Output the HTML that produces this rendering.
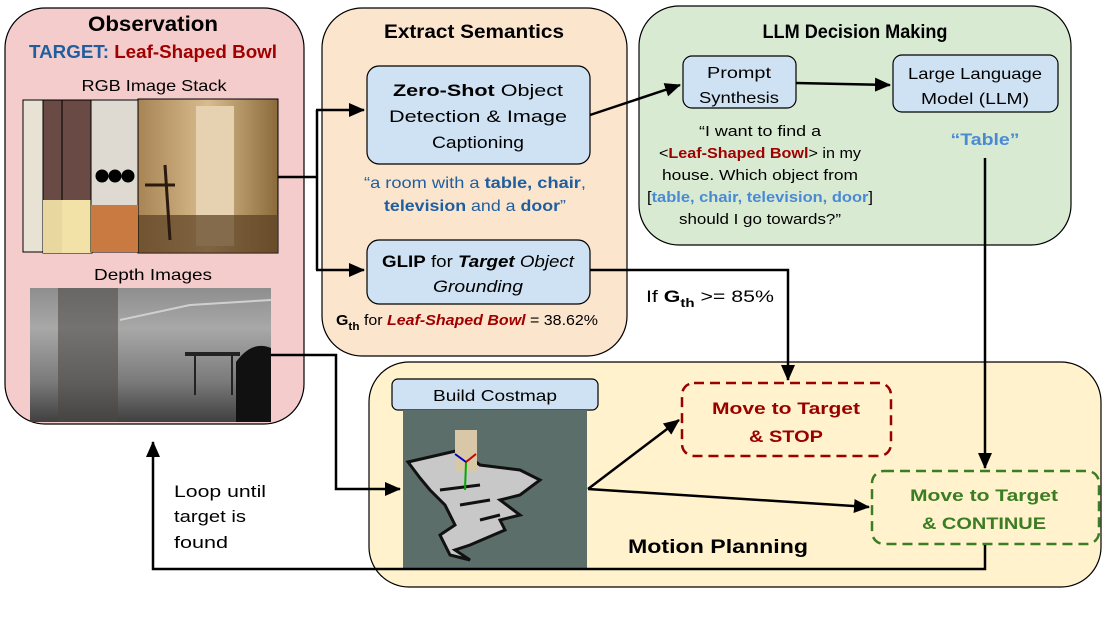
<!DOCTYPE html>
<html><head><meta charset="utf-8"><style>
html,body{margin:0;padding:0;background:#fff;}
svg{display:block;font-family:"Liberation Sans",sans-serif;}
</style></head><body>
<svg width="1111" height="625" viewBox="0 0 1111 625" xmlns="http://www.w3.org/2000/svg">
<defs>
<marker id="ah2" markerWidth="16" markerHeight="14" refX="15" refY="7" orient="auto" markerUnits="userSpaceOnUse" viewBox="0 0 16 14">
<path d="M0,0 L16,7 L0,14 z" fill="#000"/></marker>
<linearGradient id="depth" x1="0" y1="0" x2="0" y2="1">
<stop offset="0" stop-color="#8e8e8e"/><stop offset="0.3" stop-color="#a8a8a8"/><stop offset="0.7" stop-color="#7a7a7a"/><stop offset="1" stop-color="#404040"/></linearGradient>
<linearGradient id="room" x1="0" y1="0" x2="1" y2="0">
<stop offset="0" stop-color="#a88454"/><stop offset="0.5" stop-color="#d8bc8e"/><stop offset="1" stop-color="#8a6a3a"/></linearGradient>
</defs>

<rect x="5" y="8" width="299" height="416" rx="40" fill="#f4cccc" stroke="#000" stroke-width="1.2"/>
<rect x="322" y="8" width="305" height="348" rx="40" fill="#fce5cd" stroke="#000" stroke-width="1.2"/>
<rect x="639" y="6" width="432" height="239" rx="40" fill="#d9ead3" stroke="#000" stroke-width="1.2"/>
<rect x="369" y="362" width="732" height="225" rx="40" fill="#fff2cc" stroke="#000" stroke-width="1.2"/>

<text x="153" y="31" font-size="21" font-weight="bold" text-anchor="middle" textLength="130" lengthAdjust="spacingAndGlyphs">Observation</text>
<text x="153" y="58" font-size="18" font-weight="bold" text-anchor="middle" textLength="248" lengthAdjust="spacingAndGlyphs"><tspan fill="#1f5fa0">TARGET: </tspan><tspan fill="#a00000">Leaf-Shaped Bowl</tspan></text>
<text x="154" y="91" font-size="16" text-anchor="middle" textLength="145" lengthAdjust="spacingAndGlyphs">RGB Image Stack</text>
<rect x="138" y="99" width="140" height="154" fill="url(#room)" stroke="#000"/>
<rect x="196" y="106" width="38" height="140" fill="#e6d2b0"/>
<rect x="138" y="215" width="140" height="38" fill="#5a3e22" opacity="0.7"/>
<path d="M165,165 L170,240 M145,185 L175,185" stroke="#2a1a10" stroke-width="3"/>
<rect x="23" y="100" width="30" height="152" fill="#e8e2d4" stroke="#000"/>
<rect x="43" y="100" width="30" height="153" fill="#6a4a44" stroke="#000"/>
<rect x="62" y="100" width="30" height="153" fill="#6a4a44" stroke="#000"/>
<rect x="43" y="200" width="30" height="53" fill="#e8d8a0"/>
<rect x="62" y="200" width="30" height="53" fill="#f2e2a8"/>
<rect x="91" y="100" width="47" height="152" fill="#dedad2" stroke="#000"/>
<rect x="91" y="205" width="47" height="47" fill="#c87a40"/>
<circle cx="102" cy="176" r="6.5" fill="#000"/><circle cx="115" cy="176" r="6.5" fill="#000"/><circle cx="128" cy="176" r="6.5" fill="#000"/>
<text x="153" y="280" font-size="16" text-anchor="middle" textLength="118" lengthAdjust="spacingAndGlyphs">Depth Images</text>
<rect x="30" y="288" width="241" height="134" fill="url(#depth)"/>
<rect x="58" y="288" width="60" height="134" fill="#4a4646" opacity="0.55"/>
<path d="M120,320 L190,305 L271,300" stroke="#d0d0d0" stroke-width="2" fill="none"/>
<path d="M236,422 L236,362 Q252,340 271,348 L271,422 z" fill="#111"/>
<rect x="185" y="352" width="55" height="4" fill="#222"/>
<path d="M195,356 L195,395 M232,356 L232,395" stroke="#222" stroke-width="2"/>

<text x="474" y="38" font-size="19" font-weight="bold" text-anchor="middle" textLength="180" lengthAdjust="spacingAndGlyphs">Extract Semantics</text>
<rect x="367" y="66" width="223" height="98" rx="12" fill="#cfe2f3" stroke="#000" stroke-width="1.2"/>
<text x="478" y="96" font-size="17" text-anchor="middle" textLength="170" lengthAdjust="spacingAndGlyphs"><tspan font-weight="bold">Zero-Shot</tspan> Object</text>
<text x="478" y="122" font-size="17" text-anchor="middle" textLength="178" lengthAdjust="spacingAndGlyphs">Detection &amp; Image</text>
<text x="478" y="148" font-size="17" text-anchor="middle" textLength="92" lengthAdjust="spacingAndGlyphs">Captioning</text>
<text x="475" y="188" font-size="16" fill="#1f5fa0" text-anchor="middle" textLength="222" lengthAdjust="spacingAndGlyphs">“a room with a <tspan font-weight="bold">table, chair</tspan>,</text>
<text x="475" y="211" font-size="16" fill="#1f5fa0" text-anchor="middle" textLength="182" lengthAdjust="spacingAndGlyphs"><tspan font-weight="bold">television</tspan> and a <tspan font-weight="bold">door</tspan>”</text>
<rect x="367" y="240" width="223" height="64" rx="12" fill="#cfe2f3" stroke="#000" stroke-width="1.2"/>
<text x="478" y="267" font-size="17" text-anchor="middle" textLength="192" lengthAdjust="spacingAndGlyphs"><tspan font-weight="bold">GLIP</tspan> for <tspan font-weight="bold" font-style="italic">Target</tspan><tspan font-style="italic"> Object</tspan></text>
<text x="478" y="292" font-size="17" font-style="italic" text-anchor="middle" textLength="90" lengthAdjust="spacingAndGlyphs">Grounding</text>
<text x="336" y="325" font-size="15" textLength="262" lengthAdjust="spacingAndGlyphs"><tspan font-weight="bold">G</tspan><tspan font-weight="bold" font-size="11" dy="5">th</tspan><tspan dy="-5"> for </tspan><tspan font-weight="bold" font-style="italic" fill="#a00000">Leaf-Shaped Bowl</tspan> = 38.62%</text>

<text x="855" y="38" font-size="19" font-weight="bold" text-anchor="middle" textLength="185" lengthAdjust="spacingAndGlyphs">LLM Decision Making</text>
<rect x="683" y="56" width="113" height="52" rx="9" fill="#cfe2f3" stroke="#000" stroke-width="1.2"/>
<text x="739" y="78" font-size="16" text-anchor="middle" textLength="64" lengthAdjust="spacingAndGlyphs">Prompt</text>
<text x="739" y="103" font-size="16" text-anchor="middle" textLength="80" lengthAdjust="spacingAndGlyphs">Synthesis</text>
<rect x="893" y="55" width="165" height="57" rx="9" fill="#cfe2f3" stroke="#000" stroke-width="1.2"/>
<text x="975" y="79" font-size="16" text-anchor="middle" textLength="134" lengthAdjust="spacingAndGlyphs">Large Language</text>
<text x="975" y="104" font-size="16" text-anchor="middle" textLength="108" lengthAdjust="spacingAndGlyphs">Model (LLM)</text>
<text x="985" y="145" font-size="17" font-weight="bold" fill="#4a8ad4" text-anchor="middle" textLength="69" lengthAdjust="spacingAndGlyphs">“Table”</text>
<text x="760" y="136" font-size="15" text-anchor="middle" textLength="122" lengthAdjust="spacingAndGlyphs">“I want to find a</text>
<text x="760" y="158" font-size="15" text-anchor="middle" textLength="202" lengthAdjust="spacingAndGlyphs">&lt;<tspan font-weight="bold" fill="#a00000">Leaf-Shaped Bowl</tspan>&gt; in my</text>
<text x="760" y="180" font-size="15" text-anchor="middle" textLength="196" lengthAdjust="spacingAndGlyphs">house. Which object from</text>
<text x="760" y="202" font-size="15" text-anchor="middle" textLength="226" lengthAdjust="spacingAndGlyphs">[<tspan font-weight="bold" fill="#4a8ad4">table, chair, television, door</tspan>]</text>
<text x="760" y="224" font-size="15" text-anchor="middle" textLength="162" lengthAdjust="spacingAndGlyphs">should I go towards?”</text>

<rect x="392" y="379" width="206" height="31" rx="6" fill="#cfe2f3" stroke="#000" stroke-width="1.2"/>
<text x="495" y="401" font-size="16" text-anchor="middle" textLength="124" lengthAdjust="spacingAndGlyphs">Build Costmap</text>
<rect x="403" y="410" width="184" height="158" fill="#5b6e6a"/>
<path d="M408,462 L460,450 L480,465 L520,470 L540,480 L520,495 L500,500 L520,515 L500,520 L505,530 L470,545 L455,550 L470,560 L450,555 L440,535 L455,525 L445,505 L430,490 L420,478 z" fill="#c8c8c8" stroke="#111" stroke-width="3"/>
<path d="M440,490 L480,485 M460,505 L490,500 M480,520 L500,515" stroke="#111" stroke-width="3"/>
<rect x="455" y="430" width="22" height="42" fill="#d8c8a8"/>
<line x1="466" y1="462" x2="465" y2="490" stroke="#0a0" stroke-width="2"/>
<line x1="466" y1="462" x2="476" y2="454" stroke="#c00" stroke-width="2"/>
<line x1="466" y1="462" x2="455" y2="454" stroke="#00c" stroke-width="2"/>
<text x="718" y="553" font-size="19" font-weight="bold" text-anchor="middle" textLength="180" lengthAdjust="spacingAndGlyphs">Motion Planning</text>
<rect x="682" y="383" width="209" height="73" rx="12" fill="none" stroke="#990000" stroke-width="2.5" stroke-dasharray="10,6"/>
<text x="786" y="414" font-size="17" font-weight="bold" fill="#990000" text-anchor="middle" textLength="148" lengthAdjust="spacingAndGlyphs">Move to Target</text>
<text x="786" y="442" font-size="17" font-weight="bold" fill="#990000" text-anchor="middle" textLength="74" lengthAdjust="spacingAndGlyphs">&amp; STOP</text>
<rect x="872" y="471" width="227" height="73" rx="12" fill="none" stroke="#3a7d22" stroke-width="2.5" stroke-dasharray="10,6"/>
<text x="984" y="501" font-size="17" font-weight="bold" fill="#3a7d22" text-anchor="middle" textLength="148" lengthAdjust="spacingAndGlyphs">Move to Target</text>
<text x="984" y="529" font-size="17" font-weight="bold" fill="#3a7d22" text-anchor="middle" textLength="124" lengthAdjust="spacingAndGlyphs">&amp; CONTINUE</text>

<g stroke="#000" stroke-width="2.5" fill="none">
<polyline points="278,177 317,177"/>
<polyline points="317,110 317,270"/>
<line x1="316" y1="110" x2="364" y2="110" marker-end="url(#ah2)"/>
<line x1="316" y1="270" x2="364" y2="270" marker-end="url(#ah2)"/>
<line x1="590" y1="115" x2="680" y2="85" marker-end="url(#ah2)"/>
<line x1="796" y1="83" x2="890" y2="85" marker-end="url(#ah2)"/>
<line x1="985" y1="158" x2="985" y2="468" marker-end="url(#ah2)"/>
<polyline points="590,270 788,270 788,380" marker-end="url(#ah2)"/>
<polyline points="271,355 336,355 336,489 400,489" marker-end="url(#ah2)"/>
<line x1="588" y1="489" x2="679" y2="420" marker-end="url(#ah2)"/>
<line x1="588" y1="489" x2="869" y2="507" marker-end="url(#ah2)"/>
<polyline points="985,545 985,569 153,569 153,442" marker-end="url(#ah2)"/>
</g>
<text x="646" y="302" font-size="17" textLength="128" lengthAdjust="spacingAndGlyphs">If <tspan font-weight="bold">G</tspan><tspan font-weight="bold" font-size="12" dy="5">th</tspan><tspan dy="-5"> &gt;= 85%</tspan></text>
<text x="174" y="497" font-size="17" textLength="92" lengthAdjust="spacingAndGlyphs">Loop until</text>
<text x="174" y="522" font-size="17" textLength="72" lengthAdjust="spacingAndGlyphs">target is</text>
<text x="174" y="548" font-size="17" textLength="54" lengthAdjust="spacingAndGlyphs">found</text>
</svg>
</body></html>
